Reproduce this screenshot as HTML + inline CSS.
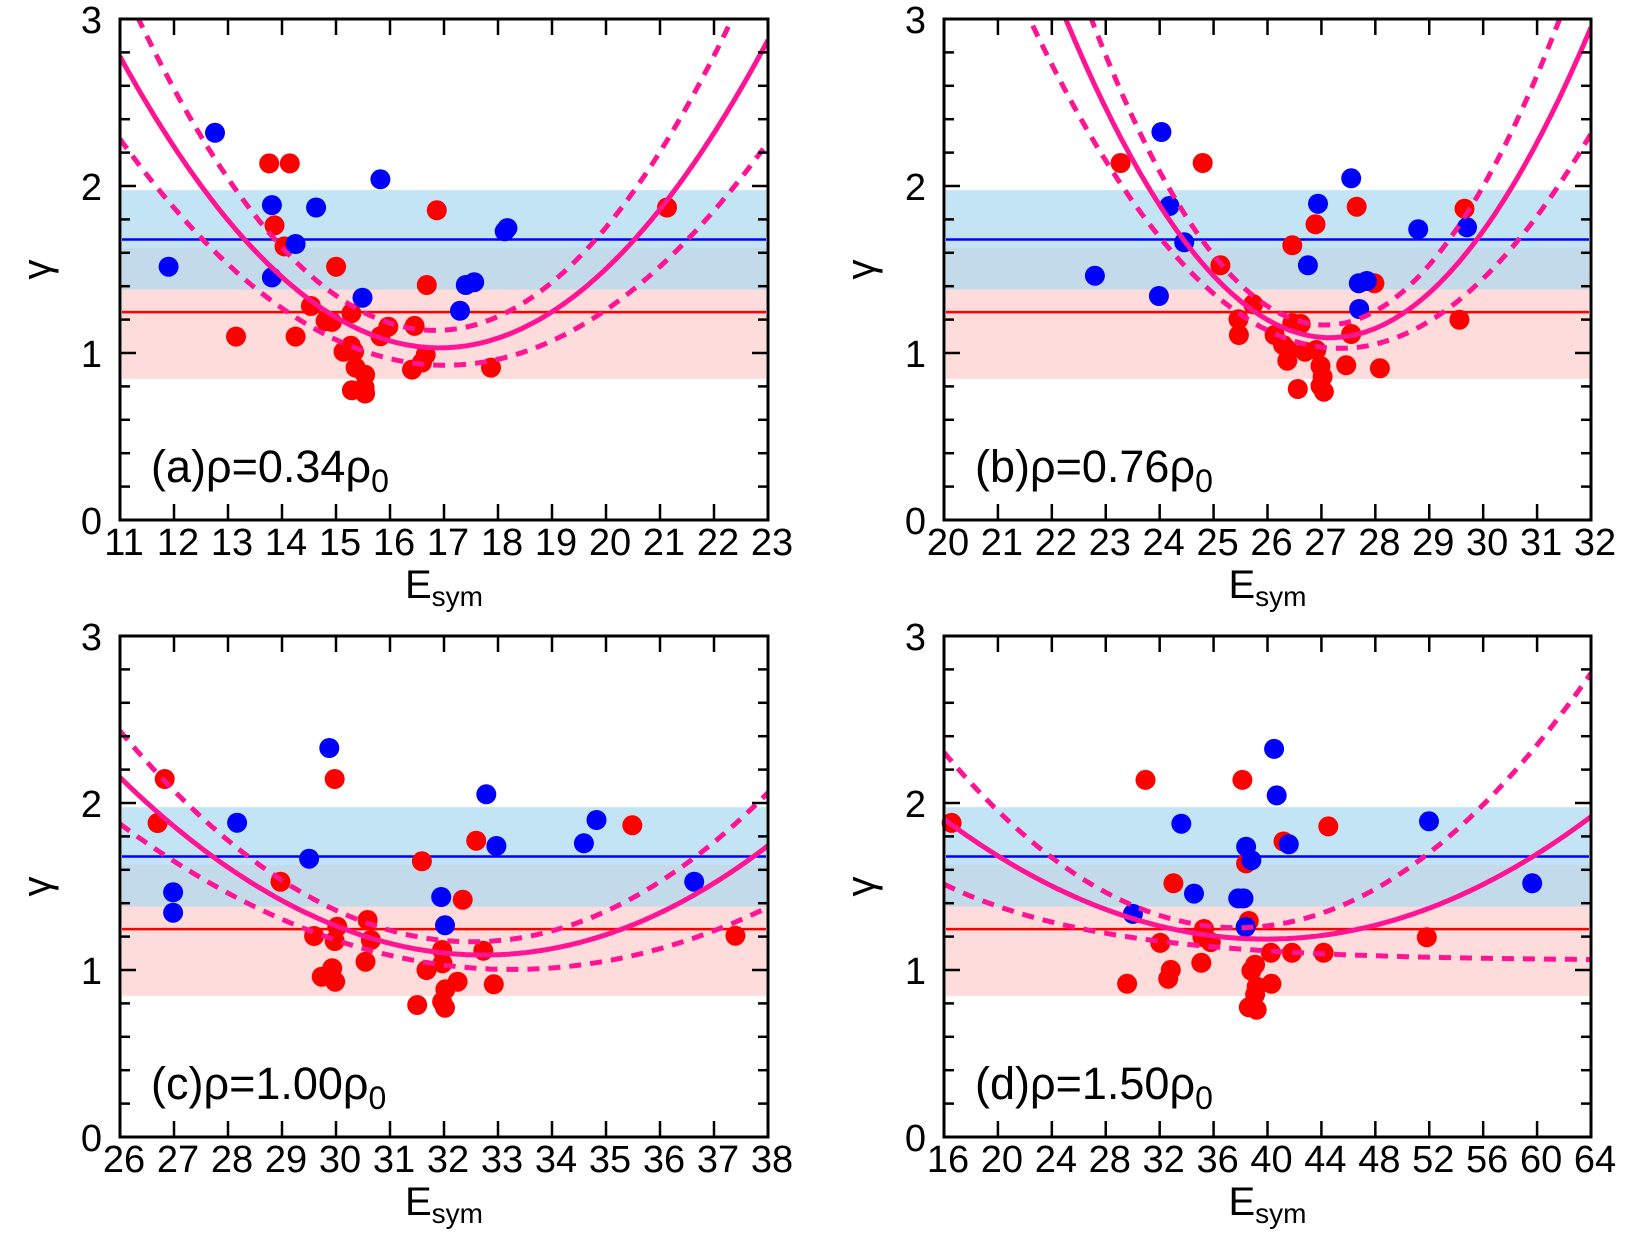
<!DOCTYPE html>
<html><head><meta charset="utf-8">
<style>
html,body{margin:0;padding:0;background:#fff;}
svg{display:block;font-family:"Liberation Sans",sans-serif;}
</style></head>
<body>
<svg id="s" width="1644" height="1233" viewBox="0 0 1644 1233" xmlns="http://www.w3.org/2000/svg"></svg>
<script>
const S=document.getElementById('s');
let out='';
const PINK='#ff1493';
function lag(p,x){const [a,b,c]=p;
 return a[1]*(x-b[0])*(x-c[0])/((a[0]-b[0])*(a[0]-c[0]))+b[1]*(x-a[0])*(x-c[0])/((b[0]-a[0])*(b[0]-c[0]))+c[1]*(x-a[0])*(x-b[0])/((c[0]-a[0])*(c[0]-b[0]));}
const panels=[
 {L:120,T:19,W:648,H:501,xmin:11,xmax:23,step:1,lab:'(a)ρ=0.34ρ',
  tf:(x,y)=>[x/1.898,y/2.516],
  blue:[[320,671],[408,334],[516,516],[516,698],[561,614],[600,522],[688,749],[722,451],[873,782],[884,717],[900,710],[958,582],[963,574]],
  red:[[448,847],[511,411],[550,411],[521,567],[540,620],[561,847],[590,770],[618,808],[630,810],[638,671],[667,788],[652,885],[672,885],[666,870],[675,925],[693,943],[668,982],[693,990],[692,975],[722,846],[737,822],[782,930],[787,820],[801,912],[808,893],[810,717],[829,529],[932,925],[1266,522]],
  solid:[[228,143],[845,875],[1462,90]],up:[[262,45],[850,830],[1385,60]],lo:[[228,350],[870,918],[1462,350]]},
 {L:944,T:19,W:647,H:501,xmin:20,xmax:32,step:1,lab:'(b)ρ=0.76ρ',
  tf:(x,y)=>[x/2.376+943,y/3+10],
  blue:[[361,797],[513,858],[519,366],[538,588],[573,697],[867,766],[891,581],[970,505],[988,820],[1007,813],[989,897],[1129,658],[1245,652]],
  red:[[422,459],[617,459],[659,766],[737,883],[702,928],[703,975],[788,975],[808,1005],[818,1052],[843,1137],[830,940],[850,942],[860,1025],[887,1020],[897,1068],[902,1100],[897,1128],[905,1145],[958,1066],[1038,1075],[970,972],[885,643],[830,706],[983,590],[1025,820],[1239,596],[1227,929],[820,1020]],
  solid:[[290,22],[920,983],[1532,75]],up:[[352,25],[910,945],[1455,60]],lo:[[205,25],[950,1015],[1540,370]]},
 {L:120,T:636,W:648,H:501,xmin:26,xmax:38,step:1,lab:'(c)ρ=1.00ρ',
  tf:(x,y)=>[x/2.376+110,y/3+630],
  blue:[[150,787],[150,848],[302,578],[473,686],[521,354],[787,801],[796,886],[894,493],[918,648],[1126,640],[1156,570],[1388,755]],
  red:[[130,447],[113,579],[405,755],[534,447],[741,694],[870,632],[838,809],[1241,586],[612,870],[540,890],[485,918],[534,933],[620,930],[607,995],[528,1015],[503,1040],[535,1055],[789,960],[790,1000],[752,1020],[887,962],[826,1055],[797,1078],[789,1115],[796,1133],[730,1125],[912,1063],[1486,917]],
  solid:[[22,440],[900,975],[1555,655]],up:[[22,300],[880,935],[1550,505]],lo:[[22,580],[930,1018],[1550,840]]},
 {L:944,T:636,W:647,H:501,xmin:16,xmax:64,step:4,lab:'(d)ρ=1.50ρ',
  tf:(x,y)=>[x/1.898+822,y/2.516+613],
  blue:[[590,757],[682,530],[706,706],[790,718],[800,718],[804,790],[805,588],[815,622],[858,342],[863,459],[886,582],[1152,524],[1348,680]],
  red:[[246,528],[579,933],[614,420],[642,830],[657,920],[662,898],[667,680],[720,880],[725,795],[722,815],[738,828],[798,420],[805,630],[810,775],[815,900],[822,885],[825,940],[822,960],[810,992],[825,998],[852,855],[853,933],[876,575],[892,855],[952,855],[961,537],[1148,816]],
  solid:[[228,515],[820,820],[1462,510]],up:[[228,345],[840,788],[1455,160]],lo:null}
];
panels.forEach((p,i)=>{
 const gy=g=>p.T+p.H-g/3*p.H;
 const id='c'+i;
 out+=`<clipPath id="${id}"><rect x="${p.L}" y="${p.T}" width="${p.W}" height="${p.H}"/></clipPath>`;
 out+=`<rect x="${p.L+2}" y="${gy(1.63)}" width="${p.W-4}" height="${gy(0.845)-gy(1.63)}" fill="#ffdcdc"/>`;
 out+=`<rect x="${p.L+2}" y="${gy(1.975)}" width="${p.W-4}" height="${gy(1.38)-gy(1.975)}" fill="#a8d8ef" fill-opacity="0.7"/>`;
 out+=`<line x1="${p.L+2}" x2="${p.L+p.W-2}" y1="${gy(1.68)}" y2="${gy(1.68)}" stroke="#0000ff" stroke-width="2.5"/>`;
 out+=`<line x1="${p.L+2}" x2="${p.L+p.W-2}" y1="${gy(1.245)}" y2="${gy(1.245)}" stroke="#ff0000" stroke-width="2.5"/>`;
 p.red.forEach(q=>{const [x,y]=p.tf(q[0],q[1]);out+=`<circle cx="${x.toFixed(1)}" cy="${y.toFixed(1)}" r="10" fill="#ff0000"/>`;});
 p.blue.forEach(q=>{const [x,y]=p.tf(q[0],q[1]);out+=`<circle cx="${x.toFixed(1)}" cy="${y.toFixed(1)}" r="10" fill="#0000ff"/>`;});
 function curve(fn,x0,x1,dash,w){let pts=[];for(let k=0;k<=200;k++){const zx=x0+(x1-x0)*k/200;const [x,y]=p.tf(zx,fn(zx));pts.push(x.toFixed(1)+','+y.toFixed(1));}
  out+=`<polyline clip-path="url(#${id})" points="${pts.join(' ')}" fill="none" stroke="${PINK}" stroke-width="${w}" ${dash?'stroke-dasharray="12,9"':''}/>`;}
 const zL=(p.L-p.tf(0,0)[0])/(p.tf(1,0)[0]-p.tf(0,0)[0]);
 const zR=(p.L+p.W-p.tf(0,0)[0])/(p.tf(1,0)[0]-p.tf(0,0)[0]);
 curve(x=>lag(p.solid,x),zL,zR,false,5);
 curve(x=>lag(p.up,x),zL,zR,true,5);
 if(p.lo) curve(x=>lag(p.lo,x),zL,zR,true,5);
 else curve(x=>875-195*Math.exp(-(x-228)/300),zL,zR,true,5);
 out+=`<rect x="${p.L}" y="${p.T}" width="${p.W}" height="${p.H}" fill="none" stroke="#000" stroke-width="3"/>`;
 for(let k=0;k<=15;k++){const g=k*0.2;const y=gy(g);const major=k%5==0;const len=major?16:10;
  out+=`<line x1="${p.L}" x2="${p.L+len}" y1="${y}" y2="${y}" stroke="#000" stroke-width="2.5"/><line x1="${p.L+p.W-len}" x2="${p.L+p.W}" y1="${y}" y2="${y}" stroke="#000" stroke-width="2.5"/>`;
  if(major) out+=`<text x="${p.L-18}" y="${y+14}" font-size="38" text-anchor="end">${k/5}</text>`;}
 const n=(p.xmax-p.xmin)/p.step;
 for(let k=0;k<=n;k++){const x=p.L+p.W*k/n;
  out+=`<line x1="${x}" x2="${x}" y1="${p.T+p.H}" y2="${p.T+p.H-16}" stroke="#000" stroke-width="2.5"/><line x1="${x}" x2="${x}" y1="${p.T}" y2="${p.T+16}" stroke="#000" stroke-width="2.5"/>`;
  out+=`<text x="${x+4}" y="${p.T+p.H+35}" font-size="38" text-anchor="middle">${p.xmin+k*p.step}</text>`;}
 out+=`<text x="${p.L+p.W/2}" y="${p.T+p.H+78}" font-size="40" text-anchor="middle">E<tspan font-size="28" dy="8">sym</tspan></text>`;
 out+=`<text transform="translate(${p.L-70},${p.T+p.H/2}) rotate(-90)" font-size="40" text-anchor="middle">γ</text>`;
 out+=`<text x="${p.L+31}" y="${p.T+p.H-38}" font-size="45">${p.lab}<tspan font-size="32" dy="10">0</tspan></text>`;
});
S.innerHTML=out;
</script>
</body></html>
